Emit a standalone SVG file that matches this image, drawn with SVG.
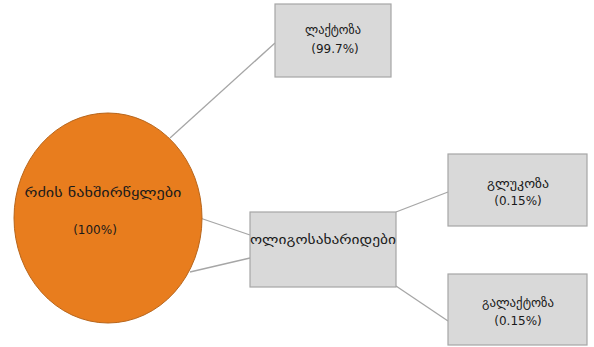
<svg xmlns="http://www.w3.org/2000/svg" width="594" height="347" viewBox="0 0 594 347">
  <style>
    .box { fill: #d9d9d9; stroke: #a6a6a6; stroke-width: 1.2; }
    .root { fill: #e87d1e; stroke: #b8651a; stroke-width: 1; }
    .link { stroke: #a6a6a6; stroke-width: 1.3; fill: none; }
    .lbl { font-family: "DejaVu Sans", "Noto Sans", sans-serif; font-size: 12px; fill: #1a1a1a; text-anchor: middle; }
  </style>
  <rect width="594" height="347" fill="#ffffff"/>

  <!-- connectors -->
  <g id="connectors">
    <line class="link" x1="170" y1="138" x2="275" y2="43"/>
    <line class="link" x1="200" y1="218" x2="250" y2="235"/>
    <line class="link" x1="190" y1="272" x2="250" y2="258"/>
    <line class="link" x1="396" y1="212" x2="448" y2="192"/>
    <line class="link" x1="396" y1="286" x2="448" y2="321"/>
  </g>

  <!-- milk carbohydrates (root) -->
  <g id="node-milk-carbs">
    <ellipse class="root" cx="108" cy="218" rx="94" ry="105"/>
    <text class="lbl" x="103" y="197" textLength="157" lengthAdjust="spacingAndGlyphs">რძის ნახშირწყლები</text>
    <text class="lbl" x="95" y="234">(100%)</text>
  </g>

  <!-- lactose -->
  <g id="node-lactose">
    <rect class="box" x="275" y="4" width="116" height="73"/>
    <text class="lbl" x="333" y="34" textLength="56" lengthAdjust="spacingAndGlyphs">ლაქტოზა</text>
    <text class="lbl" x="335" y="53">(99.7%)</text>
  </g>

  <!-- oligosaccharides -->
  <g id="node-oligo">
    <rect class="box" x="250" y="212" width="146" height="75"/>
    <text class="lbl" x="323" y="244" textLength="146" lengthAdjust="spacingAndGlyphs">ოლიგოსახარიდები</text>
  </g>

  <!-- glucose -->
  <g id="node-glucose">
    <rect class="box" x="448" y="154" width="139" height="72"/>
    <text class="lbl" x="518" y="188" textLength="62" lengthAdjust="spacingAndGlyphs">გლუკოზა</text>
    <text class="lbl" x="518" y="205">(0.15%)</text>
  </g>

  <!-- galactose -->
  <g id="node-galactose">
    <rect class="box" x="448" y="274" width="139" height="71"/>
    <text class="lbl" x="518" y="307" textLength="72" lengthAdjust="spacingAndGlyphs">გალაქტოზა</text>
    <text class="lbl" x="518" y="325">(0.15%)</text>
  </g>
</svg>
